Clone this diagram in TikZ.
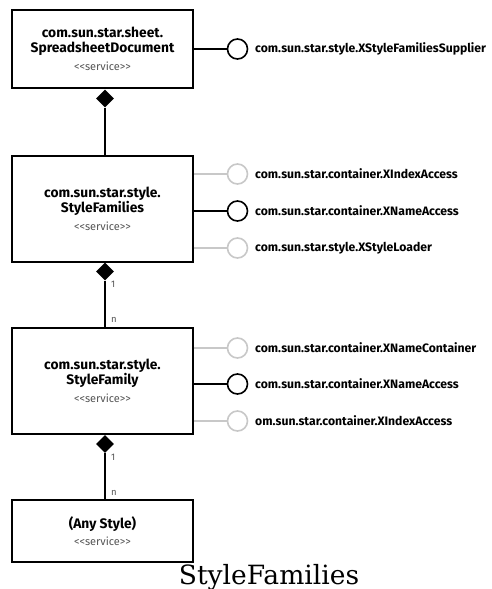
\documentclass[tikz,border=0pt]{standalone}
\usepackage{fontspec}
\setsansfont{Fira Sans}
\newfontfamily\titlefont{DejaVu Serif}
\usetikzlibrary{shapes.geometric}
\definecolor{ifgray}{HTML}{C8C8C8}
\definecolor{svcgray}{HTML}{555555}
\tikzset{
  svcbox/.style={draw, line width=1.6pt, minimum width=181pt, inner sep=0pt, align=center, font=\sffamily\bfseries\fontsize{13.8}{14.5}\selectfont},
  agg/.style={shape=diamond, fill=black, draw=none, minimum width=18pt, minimum height=18pt, inner sep=0pt},
  iface/.style={shape=circle, draw, line width=1.6pt, minimum size=20pt, inner sep=0pt, fill=white},
  ifaceopt/.style={iface, draw=ifgray},
  iflabel/.style={anchor=west, inner sep=0pt, font=\sffamily\bfseries\fontsize{12.2}{14}\selectfont},
  link/.style={line width=2pt},
  optlink/.style={line width=1.6pt, ifgray},
  mult/.style={anchor=west, inner sep=0pt, text=svcgray, font=\sffamily\fontsize{9.5}{10}\selectfont}
}
\newcommand{\svc}{{\mdseries\color{svcgray}\fontsize{11}{12}\selectfont <\kern0pt<service>\kern0pt>}}
\begin{document}
\begin{tikzpicture}[x=1pt,y=-1pt]
\useasboundingbox (0,0) rectangle (491,589);
% boxes
\node[svcbox, minimum height=78pt] (b1) at (102.5,49) {com.sun.star.sheet.\\SpreadsheetDocument\\[3.5pt]\svc};
\node[svcbox, minimum height=106pt] (b2) at (102.5,209) {com.sun.star.style.\\StyleFamilies\\[3.5pt]\svc};
\node[svcbox, minimum height=106pt] (b3) at (102.5,381) {com.sun.star.style.\\StyleFamily\\[3.5pt]\svc};
\node[svcbox, minimum height=62pt] (b4) at (102.5,531) {(Any Style)\\[2pt]\svc};
% aggregation diamonds
\node[agg] (d1) at (105,98.5) {};
\node[agg] (d2) at (105,271.5) {};
\node[agg] (d3) at (105,444) {};
\draw[link] (d1.south) -- (d1.south |- b2.north);
\draw[link] (d2.south) -- (d2.south |- b3.north);
\draw[link] (d3.south) -- (d3.south |- b4.north);
% multiplicities
\node[mult] (m1) at (111,284) {1};
\node[mult] (m2) at (111,320) {n};
\node[mult] (m3) at (111,457) {1};
\node[mult] (m4) at (111,493) {n};
% interfaces box 1
\node[iface] (i1) at (237.5,49) {};
\draw[link] (b1.east |- i1.west) -- (i1.west);
\node[iflabel] (l1) at (255,49) {com.sun.star.style.XStyleFamiliesSupplier};
% interfaces box 2
\node[ifaceopt] (i2) at (237.5,174) {};
\node[iface] (i3) at (237.5,211) {};
\node[ifaceopt] (i4) at (237.5,248) {};
\draw[optlink] (b2.east |- i2.west) -- (i2.west);
\draw[link] (b2.east |- i3.west) -- (i3.west);
\draw[optlink] (b2.east |- i4.west) -- (i4.west);
\node[iflabel] (l2) at (255,174) {com.sun.star.container.XIndexAccess};
\node[iflabel] (l3) at (255,211) {com.sun.star.container.XNameAccess};
\node[iflabel] (l4) at (255,248) {com.sun.star.style.XStyleLoader};
% interfaces box 3
\node[ifaceopt] (i5) at (237.5,348) {};
\node[iface] (i6) at (237.5,384) {};
\node[ifaceopt] (i7) at (237.5,421) {};
\draw[optlink] (b3.east |- i5.west) -- (i5.west);
\draw[link] (b3.east |- i6.west) -- (i6.west);
\draw[optlink] (b3.east |- i7.west) -- (i7.west);
\node[iflabel] (l5) at (255,348) {com.sun.star.container.XNameContainer};
\node[iflabel] (l6) at (255,384) {com.sun.star.container.XNameAccess};
\node[iflabel] (l7) at (255,421) {om.sun.star.container.XIndexAccess};
% caption
\node[font=\titlefont\fontsize{26.5}{28}\selectfont, inner sep=0pt] (cap) at (269,577) {StyleFamilies};
\end{tikzpicture}
\end{document}
